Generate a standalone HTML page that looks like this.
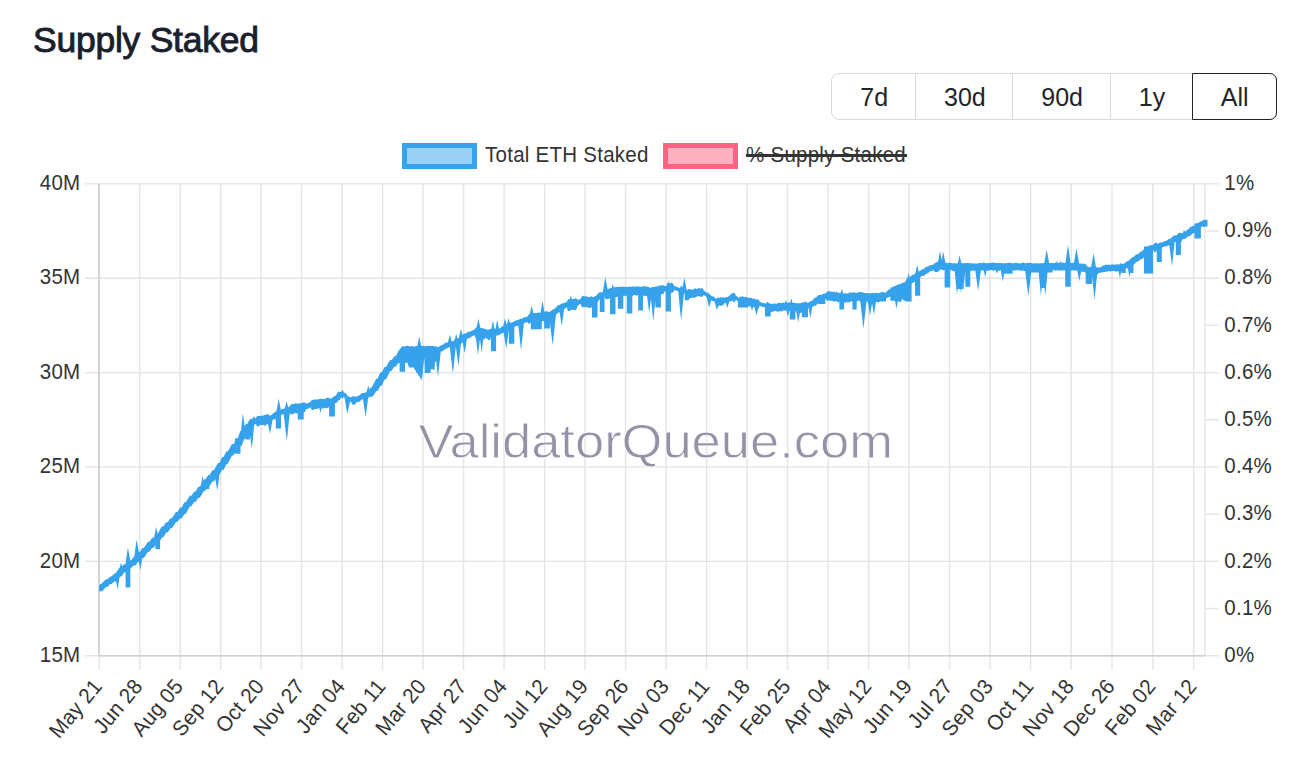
<!DOCTYPE html>
<html lang="en">
<head>
<meta charset="utf-8">
<title>Supply Staked</title>
<style>
html,body{margin:0;padding:0;background:#fff;}
body{width:1315px;height:765px;position:relative;overflow:hidden;font-family:"Liberation Sans",sans-serif;color:#212529;}
h2{position:absolute;left:33px;top:18.6px;margin:0;font-size:35.5px;line-height:42px;font-weight:normal;color:#1a202c;-webkit-text-stroke:0.9px #1a202c;white-space:nowrap;letter-spacing:-0.25px;}
.btns{position:absolute;left:831px;top:73px;height:47px;display:flex;box-sizing:border-box;border:1.3px solid #d6dade;border-radius:8px;}
.btns div{box-sizing:border-box;height:100%;font-size:25px;line-height:46.6px;text-align:center;padding-left:1px;color:#212529;border-right:1.3px solid #d6dade;}
.btns div.act{border:1.5px solid #212529;border-radius:0 7px 7px 0;margin:-1.3px -1.3px -1.3px -1.2px;padding-left:0;height:47px;line-height:46.6px;}
.btns span{display:inline-block;transform:scaleY(1.05);transform-origin:0 31.5px;}
.legend{position:absolute;top:142px;transform:scaleY(1.04);transform-origin:0 19.5px;height:26px;font-size:20.5px;letter-spacing:0.26px;line-height:26px;color:#333;white-space:nowrap;}
.box{position:absolute;top:143.2px;width:75px;height:25.6px;box-sizing:border-box;border:5px solid;}
svg{position:absolute;left:0;top:0;}
svg text{font-family:"Liberation Sans",sans-serif;}
</style>
</head>
<body>
<h2>Supply Staked</h2>
<div class="btns"><div style="width:84.3px"><span>7d</span></div><div style="width:97.1px"><span>30d</span></div><div style="width:97.5px"><span>90d</span></div><div style="width:82.2px"><span>1y</span></div><div class="act" style="width:85.6px"><span>All</span></div></div>
<div class="box" style="left:401.8px;border-color:#36a2eb;background:#9ad0f5"></div>
<div class="legend" style="left:485px">Total ETH Staked</div>
<div class="box" style="left:663.2px;border-color:#ff6384;background:#ffb1c1"></div>
<div class="legend" style="left:746px">% Supply Staked</div>
<div style="position:absolute;left:746px;top:154.4px;width:161px;height:2.5px;background:#333"></div>
<svg width="1315" height="765" viewBox="0 0 1315 765">
<g stroke="#e4e4e4" stroke-width="1.35" fill="none">
<line x1="99.2" x2="99.2" y1="183.8" y2="669.7"/>
<line x1="139.7" x2="139.7" y1="183.8" y2="669.7"/>
<line x1="180.2" x2="180.2" y1="183.8" y2="669.7"/>
<line x1="220.7" x2="220.7" y1="183.8" y2="669.7"/>
<line x1="261.1" x2="261.1" y1="183.8" y2="669.7"/>
<line x1="301.6" x2="301.6" y1="183.8" y2="669.7"/>
<line x1="342.1" x2="342.1" y1="183.8" y2="669.7"/>
<line x1="382.6" x2="382.6" y1="183.8" y2="669.7"/>
<line x1="423.1" x2="423.1" y1="183.8" y2="669.7"/>
<line x1="463.6" x2="463.6" y1="183.8" y2="669.7"/>
<line x1="504.1" x2="504.1" y1="183.8" y2="669.7"/>
<line x1="544.6" x2="544.6" y1="183.8" y2="669.7"/>
<line x1="585.1" x2="585.1" y1="183.8" y2="669.7"/>
<line x1="625.6" x2="625.6" y1="183.8" y2="669.7"/>
<line x1="666.1" x2="666.1" y1="183.8" y2="669.7"/>
<line x1="706.6" x2="706.6" y1="183.8" y2="669.7"/>
<line x1="747.1" x2="747.1" y1="183.8" y2="669.7"/>
<line x1="787.6" x2="787.6" y1="183.8" y2="669.7"/>
<line x1="828.1" x2="828.1" y1="183.8" y2="669.7"/>
<line x1="868.6" x2="868.6" y1="183.8" y2="669.7"/>
<line x1="909.1" x2="909.1" y1="183.8" y2="669.7"/>
<line x1="949.6" x2="949.6" y1="183.8" y2="669.7"/>
<line x1="990.1" x2="990.1" y1="183.8" y2="669.7"/>
<line x1="1030.7" x2="1030.7" y1="183.8" y2="669.7"/>
<line x1="1071.2" x2="1071.2" y1="183.8" y2="669.7"/>
<line x1="1112" x2="1112" y1="183.8" y2="669.7"/>
<line x1="1152.8" x2="1152.8" y1="183.8" y2="669.7"/>
<line x1="1193.8" x2="1193.8" y1="183.8" y2="669.7"/>
<line x1="1204.9" x2="1204.9" y1="183.8" y2="655.7"/>
<line x1="85" x2="1218.9" y1="183.8" y2="183.8"/>
<line x1="1204.9" x2="1218.9" y1="231" y2="231"/>
<line x1="85" x2="1218.9" y1="278.2" y2="278.2"/>
<line x1="1204.9" x2="1218.9" y1="325.4" y2="325.4"/>
<line x1="85" x2="1218.9" y1="372.6" y2="372.6"/>
<line x1="1204.9" x2="1218.9" y1="419.8" y2="419.8"/>
<line x1="85" x2="1218.9" y1="466.9" y2="466.9"/>
<line x1="1204.9" x2="1218.9" y1="514.1" y2="514.1"/>
<line x1="85" x2="1218.9" y1="561.3" y2="561.3"/>
<line x1="1204.9" x2="1218.9" y1="608.5" y2="608.5"/>
<line x1="85" x2="1218.9" y1="655.7" y2="655.7"/>
</g>
<line x1="99" x2="99" y1="183.8" y2="655.7" stroke="#cfcfcf" stroke-width="1.6"/>
<line x1="99" x2="1204.9" y1="655.7" y2="655.7" stroke="#cfcfcf" stroke-width="1.6"/>
<text x="418.4" y="457.6" font-size="48" fill="#9392a6" stroke="#fff" stroke-width="0.8" textLength="474.5" lengthAdjust="spacingAndGlyphs">ValidatorQueue.com</text>
<path d="M99 585.9 L100.4 584 L101.8 583.6 L103.2 582 L104.6 580.5 L106 579.2 L107.4 579.2 L108.8 577.9 L110.2 576.6 L111.6 576.6 L113 575.1 L114.4 573.4 L115.8 573.3 L117.2 571.1 L118.6 569.1 L120 567.1 L121.4 567.2 L122.8 565.4 L124.2 564.1 L125.6 564.2 L127 562.9 L128.4 561.5 L129.8 561.5 L131.2 560 L132.6 558.4 L134 556.4 L135.4 556.2 L136.8 554.1 L138.2 552.1 L139.6 552.1 L141 550.1 L142.4 548 L143.8 547.9 L145.2 545.9 L146.6 543.8 L148 541.8 L149.4 541.8 L150.8 539.8 L152.2 537.8 L153.6 537.8 L155 535.8 L156.4 533.6 L157.8 533.5 L159.2 531.1 L160.6 528.6 L162 526.3 L163.4 526.4 L164.8 524.3 L166.2 522.3 L167.6 522.4 L169 520.3 L170.4 518.2 L171.8 518.3 L173.2 516.2 L174.6 514.1 L176 512.1 L177.4 512.1 L178.8 510 L180.2 507.6 L181.6 507.4 L183 504.8 L184.4 502.3 L185.8 502.3 L187.2 499.9 L188.6 497.7 L190 495.6 L191.4 495.8 L192.8 493.7 L194.2 491.5 L195.6 491.5 L197 489.1 L198.4 486.8 L199.8 486.7 L201.2 484.4 L202.6 482.1 L204 479.7 L205.4 479.7 L206.8 477.3 L208.2 474.9 L209.6 474.9 L211 472.6 L212.4 470.2 L213.8 470.2 L215.2 467.9 L216.6 465.5 L218 463.1 L219.4 463 L220.8 460.1 L222.2 457 L223.6 456.9 L225 454 L226.4 451.3 L227.8 451.4 L229.2 448.9 L230.6 446.3 L232 444.1 L233.4 444.2 L234.8 441.9 L236.2 439.3 L237.6 438.9 L239 434.7 L240.4 430.9 L241.8 431.1 L243.2 428.8 L244.6 426.5 L246 423.9 L247.4 423.8 L248.8 421.1 L250.2 419 L251.6 419.2 L253 418.1 L254.4 417.9 L255.8 418.3 L257.2 415.9 L258.6 415.9 L260 416.1 L261.4 415.7 L262.8 415.7 L264.2 415.1 L265.6 415.1 L267 414.1 L268.4 414.6 L269.8 415.8 L271.2 415.1 L272.6 414 L274 412.4 L275.4 412.2 L276.8 410.7 L278.2 409.8 L279.6 410 L281 409.5 L282.4 408.8 L283.8 408.9 L285.2 408.2 L286.6 407.5 L288 406.9 L289.4 406.9 L290.8 404.4 L292.2 404.1 L293.6 404.1 L295 403.5 L296.4 403.3 L297.8 403.9 L299.2 403.3 L300.6 403.4 L302 402.7 L303.4 402.4 L304.8 402.5 L306.2 403.5 L307.6 403.3 L309 402.6 L310.4 402.1 L311.8 399.9 L313.2 400 L314.6 399.3 L316 399.8 L317.4 399.2 L318.8 399.2 L320.2 398.8 L321.6 398.7 L323 399 L324.4 399 L325.8 398.4 L327.2 397.8 L328.6 397.4 L330 399.7 L331.4 398.5 L332.8 397.4 L334.2 396.1 L335.6 395.9 L337 393.6 L338.4 391.6 L339.8 392 L341.2 391.9 L342.6 389.8 L344 392.5 L345.4 393 L346.8 394.5 L348.2 396.4 L349.6 396.7 L351 397.4 L352.4 396.3 L353.8 396.4 L355.2 396.4 L356.6 396.5 L358 396.3 L359.4 395.2 L360.8 393.9 L362.2 392.9 L363.6 393 L365 392.7 L366.4 392.1 L367.8 391.9 L369.2 390 L370.6 387.6 L372 387.2 L373.4 384.3 L374.8 381.6 L376.2 378.8 L377.6 378.7 L379 375.5 L380.4 372.3 L381.8 372.4 L383.2 369.6 L384.6 366.9 L386 367 L387.4 364.4 L388.8 362.1 L390.2 360.1 L391.6 360.3 L393 358.3 L394.4 356.2 L395.8 356.2 L397.2 353.6 L398.6 350.5 L400 350.4 L401.4 347.1 L402.8 345.9 L404.2 346.8 L405.6 345.9 L407 345.8 L408.4 345.9 L409.8 346.4 L411.2 345.9 L412.6 346 L414 347 L415.4 346.2 L416.8 346.1 L418.2 345.7 L419.6 345.5 L421 345.6 L422.4 346.2 L423.8 345.8 L425.2 346.4 L426.6 346.1 L428 345.7 L429.4 345.9 L430.8 346 L432.2 346.1 L433.6 345.9 L435 346.7 L436.4 346 L437.8 347.4 L439.2 346.4 L440.6 345.4 L442 345.3 L443.4 344.2 L444.8 343.3 L446.2 342.5 L447.6 342.6 L449 342.2 L450.4 341.7 L451.8 341.7 L453.2 340.9 L454.6 340.1 L456 340 L457.4 338.9 L458.8 337.7 L460.2 336.1 L461.6 336 L463 334.4 L464.4 333.5 L465.8 333.6 L467.2 332.6 L468.6 331.7 L470 331.8 L471.4 331 L472.8 330.3 L474.2 329.8 L475.6 328 L477 327.1 L478.4 326.5 L479.8 327.4 L481.2 327.9 L482.6 327.9 L484 328.8 L485.4 329.1 L486.8 329.5 L488.2 329.7 L489.6 329.3 L491 328.7 L492.4 328.2 L493.8 329.3 L495.2 328.5 L496.6 329.9 L498 329.7 L499.4 328.6 L500.8 327.4 L502.2 326.3 L503.6 326.3 L505 325.3 L506.4 324.3 L507.8 324.4 L509.2 323.4 L510.6 322.4 L512 322.5 L513.4 321.8 L514.8 321 L516.2 320.3 L517.6 320.3 L519 319.5 L520.4 318.7 L521.8 318.7 L523.2 317.9 L524.6 317.1 L526 317.2 L527.4 316.6 L528.8 314.6 L530.2 313.8 L531.6 313.6 L533 313.9 L534.4 313.1 L535.8 313 L537.2 313.1 L538.6 312.3 L540 313 L541.4 312 L542.8 311.9 L544.2 312.1 L545.6 311.4 L547 311 L548.4 312 L549.8 311.8 L551.2 310.7 L552.6 309.4 L554 309.2 L555.4 307.9 L556.8 306.4 L558.2 305 L559.6 305 L561 304.1 L562.4 303.2 L563.8 303.3 L565.2 302.6 L566.6 302.2 L568 299.6 L569.4 299.1 L570.8 298.9 L572.2 298.9 L573.6 299.2 L575 298.3 L576.4 298.4 L577.8 300 L579.2 299.4 L580.6 298.8 L582 296.2 L583.4 295.9 L584.8 296.6 L586.2 296 L587.6 297.1 L589 297 L590.4 296.8 L591.8 296.3 L593.2 297.8 L594.6 296.3 L596 296.1 L597.4 294.3 L598.8 292.8 L600.2 292.1 L601.6 292.4 L603 291.9 L604.4 291.5 L605.8 289.1 L607.2 289.3 L608.6 288.7 L610 288.3 L611.4 288.1 L612.8 287.7 L614.2 287.4 L615.6 287 L617 287.1 L618.4 286.8 L619.8 287.1 L621.2 286.6 L622.6 286.8 L624 286.8 L625.4 286.7 L626.8 286.9 L628.2 286.9 L629.6 286.2 L631 286.9 L632.4 286.3 L633.8 286.8 L635.2 286.6 L636.6 286.6 L638 286.3 L639.4 286.8 L640.8 286.8 L642.2 286.7 L643.6 286.1 L645 286.6 L646.4 286.2 L647.8 286.8 L649.2 287.3 L650.6 287.9 L652 287 L653.4 287 L654.8 287.1 L656.2 286.3 L657.6 286.5 L659 285.8 L660.4 285.2 L661.8 285.6 L663.2 285.1 L664.6 286 L666 285.9 L667.4 284.7 L668.8 283.1 L670.2 283.5 L671.6 282.6 L673 283.7 L674.4 286.2 L675.8 286.2 L677.2 286.9 L678.6 287.7 L680 287.7 L681.4 285.6 L682.8 288.7 L684.2 289.6 L685.6 289.5 L687 290.6 L688.4 289.1 L689.8 289.1 L691.2 289.7 L692.6 289.8 L694 289 L695.4 288.3 L696.8 289 L698.2 288.2 L699.6 288.3 L701 288.6 L702.4 288.1 L703.8 290.5 L705.2 291.4 L706.6 292.8 L708 292.7 L709.4 294.1 L710.8 295.3 L712.2 296.4 L713.6 296.3 L715 298 L716.4 299 L717.8 297.2 L719.2 298 L720.6 297.3 L722 297.7 L723.4 297.2 L724.8 297.8 L726.2 297 L727.6 296.9 L729 295.9 L730.4 294.8 L731.8 293.5 L733.2 293 L734.6 292.9 L736 295.7 L737.4 296.8 L738.8 298.1 L740.2 296.8 L741.6 296.6 L743 296.4 L744.4 297.2 L745.8 296.7 L747.2 297.5 L748.6 298 L750 297.4 L751.4 297.9 L752.8 298.7 L754.2 298.6 L755.6 299.4 L757 299.2 L758.4 299.6 L759.8 301.7 L761.2 302.4 L762.6 303.1 L764 303.1 L765.4 303.9 L766.8 302 L768.2 302.6 L769.6 303.6 L771 303.7 L772.4 303.9 L773.8 303.4 L775.2 303.6 L776.6 303.9 L778 302.8 L779.4 303 L780.8 302.9 L782.2 303.1 L783.6 302.5 L785 303 L786.4 303 L787.8 302.6 L789.2 302.6 L790.6 302.6 L792 302.7 L793.4 302.9 L794.8 302.7 L796.2 303.3 L797.6 303.3 L799 303.3 L800.4 303.2 L801.8 302.5 L803.2 302.6 L804.6 302.1 L806 301.6 L807.4 303 L808.8 302.2 L810.2 301.3 L811.6 301.1 L813 299.8 L814.4 297.8 L815.8 297.7 L817.2 296.3 L818.6 295.5 L820 295.7 L821.4 294.7 L822.8 293.9 L824.2 293.4 L825.6 293.5 L827 291.5 L828.4 291.5 L829.8 291.1 L831.2 291.8 L832.6 291.9 L834 291.4 L835.4 292.5 L836.8 292.8 L838.2 292.6 L839.6 293.1 L841 293 L842.4 293.6 L843.8 293.4 L845.2 292.9 L846.6 293.5 L848 293.4 L849.4 292.6 L850.8 292.5 L852.2 292.8 L853.6 292.2 L855 292.8 L856.4 292.7 L857.8 292.7 L859.2 292 L860.6 291.9 L862 292.3 L863.4 292.5 L864.8 292.9 L866.2 293.3 L867.6 292.9 L869 293.5 L870.4 293.1 L871.8 293.3 L873.2 292.8 L874.6 293.4 L876 292.6 L877.4 293.2 L878.8 293.2 L880.2 292.6 L881.6 292.3 L883 291.9 L884.4 292.7 L885.8 292.5 L887.2 291.1 L888.6 289.6 L890 289.5 L891.4 288.2 L892.8 287.1 L894.2 285.9 L895.6 286 L897 284.9 L898.4 284.2 L899.8 284.3 L901.2 283.6 L902.6 282.7 L904 282.6 L905.4 281.5 L906.8 279.6 L908.2 277.7 L909.6 277.6 L911 276.1 L912.4 274.7 L913.8 274.7 L915.2 273.3 L916.6 272 L918 272.1 L919.4 271.3 L920.8 270.5 L922.2 269.3 L923.6 269.2 L925 267.8 L926.4 266.6 L927.8 266.7 L929.2 265.8 L930.6 265 L932 265.1 L933.4 264.6 L934.8 262.9 L936.2 262.6 L937.6 261.6 L939 262.5 L940.4 262.5 L941.8 262 L943.2 262.5 L944.6 262.2 L946 262.7 L947.4 263.2 L948.8 262.6 L950.2 263.1 L951.6 263.1 L953 263.5 L954.4 263 L955.8 263.4 L957.2 263.2 L958.6 263.2 L960 263.3 L961.4 262.8 L962.8 263.6 L964.2 263.1 L965.6 263.3 L967 262.9 L968.4 262.9 L969.8 263.3 L971.2 263.3 L972.6 263.5 L974 263.5 L975.4 263.5 L976.8 263.5 L978.2 263.4 L979.6 262.8 L981 262.9 L982.4 263.2 L983.8 263 L985.2 263.3 L986.6 263.3 L988 263.1 L989.4 262.9 L990.8 263.1 L992.2 262.6 L993.6 262.8 L995 262.7 L996.4 263.1 L997.8 263.3 L999.2 263.1 L1000.6 263 L1002 263.1 L1003.4 263.4 L1004.8 262.9 L1006.2 263.2 L1007.6 263 L1009 262.8 L1010.4 262.8 L1011.8 263.3 L1013.2 263.2 L1014.6 263.1 L1016 262.7 L1017.4 263.2 L1018.8 263.2 L1020.2 263.4 L1021.6 262.9 L1023 262.6 L1024.4 262.9 L1025.8 263.2 L1027.2 262.9 L1028.6 262.8 L1030 263 L1031.4 263.1 L1032.8 263.4 L1034.2 263.2 L1035.6 263.3 L1037 263.2 L1038.4 263.4 L1039.8 263.3 L1041.2 263.2 L1042.6 263.3 L1044 262.9 L1045.4 262.9 L1046.8 263.1 L1048.2 263.3 L1049.6 263.3 L1051 262.8 L1052.4 263 L1053.8 263.2 L1055.2 262.5 L1056.6 263 L1058 263 L1059.4 262.7 L1060.8 262.9 L1062.2 262.4 L1063.6 262.7 L1065 262.9 L1066.4 263 L1067.8 262.6 L1069.2 262.6 L1070.6 263.2 L1072 263.1 L1073.4 262.7 L1074.8 263.4 L1076.2 263.1 L1077.6 263.8 L1079 263.6 L1080.4 263.6 L1081.8 263.7 L1083.2 263.7 L1084.6 263.6 L1086 264.4 L1087.4 266.5 L1088.8 267.1 L1090.2 268 L1091.6 268.1 L1093 267.2 L1094.4 267.9 L1095.8 267.3 L1097.2 267.2 L1098.6 267.5 L1100 267.5 L1101.4 266.7 L1102.8 265.5 L1104.2 265.4 L1105.6 264.6 L1107 265 L1108.4 264.4 L1109.8 264.9 L1111.2 264.4 L1112.6 264.4 L1114 264.4 L1115.4 264.7 L1116.8 264.3 L1118.2 264.4 L1119.6 264.2 L1121 263 L1122.4 264 L1123.8 263.8 L1125.2 262.7 L1126.6 261.3 L1128 261.2 L1129.4 260 L1130.8 258.7 L1132.2 257.2 L1133.6 257.1 L1135 255.6 L1136.4 254.3 L1137.8 254.3 L1139.2 253 L1140.6 251.4 L1142 251.4 L1143.4 249.7 L1144.8 248.2 L1146.2 246.7 L1147.6 246.8 L1149 245.7 L1150.4 245.1 L1151.8 245.3 L1153.2 245 L1154.6 242.9 L1156 242.6 L1157.4 243.8 L1158.8 243.2 L1160.2 242.5 L1161.6 242.5 L1163 241.9 L1164.4 241.2 L1165.8 241.1 L1167.2 240.2 L1168.6 239 L1170 238.9 L1171.4 237.7 L1172.8 236.4 L1174.2 235.2 L1175.6 235.4 L1177 235 L1178.4 233.1 L1179.8 232.7 L1181.2 233 L1182.6 233.4 L1184 233.2 L1185.4 231.6 L1186.8 230.3 L1188.2 228.9 L1189.6 228.9 L1191 227.4 L1192.4 225.9 L1193.8 225.9 L1195.2 224.5 L1196.6 223.1 L1198 223.2 L1199.4 222.1 L1200.8 221.3 L1202.2 220.9 L1203.6 219.6 L1205 219.9 L1206.4 220 L1207.5 219.6 L1207.5 226.4 L1206.4 226.4 L1205 226.8 L1203.6 227.1 L1202.2 226.3 L1200.8 227.7 L1199.4 229.1 L1198 230.6 L1196.6 230.7 L1195.2 232.2 L1193.8 233.6 L1192.4 233.6 L1191 235 L1189.6 236.3 L1188.2 236.2 L1186.8 237.5 L1185.4 238.6 L1184 239.3 L1182.6 239.1 L1181.2 242.2 L1179.8 242.3 L1178.4 244 L1177 240.4 L1175.6 241.9 L1174.2 242.1 L1172.8 243.3 L1171.4 244.4 L1170 245.5 L1168.6 245.3 L1167.2 246 L1165.8 246.6 L1164.4 246.5 L1163 247.2 L1161.6 247.8 L1160.2 247.8 L1158.8 248.4 L1157.4 249 L1156 251.8 L1154.6 252.4 L1153.2 250 L1151.8 251 L1150.4 251.2 L1149 252.8 L1147.6 254.6 L1146.2 254.7 L1144.8 256.3 L1143.4 257.9 L1142 259.3 L1140.6 259.2 L1139.2 260.4 L1137.8 261.8 L1136.4 261.8 L1135 263.4 L1133.6 264.7 L1132.2 264.7 L1130.8 265.8 L1129.4 267 L1128 268.3 L1126.6 268.2 L1125.2 269 L1123.8 269.7 L1122.4 269.5 L1121 274.1 L1119.6 271.4 L1118.2 271.1 L1116.8 271.4 L1115.4 271.4 L1114 271.1 L1112.6 271 L1111.2 271.2 L1109.8 271.4 L1108.4 271.1 L1107 271.8 L1105.6 271.7 L1104.2 272 L1102.8 272.6 L1101.4 272.2 L1100 273 L1098.6 273 L1097.2 274.9 L1095.8 275.2 L1094.4 275.2 L1093 275.4 L1091.6 271.9 L1090.2 272 L1088.8 271.2 L1087.4 270.5 L1086 273 L1084.6 271.8 L1083.2 272 L1081.8 271.6 L1080.4 271.5 L1079 270.8 L1077.6 271.1 L1076.2 270.6 L1074.8 270.5 L1073.4 270.3 L1072 270.4 L1070.6 270.5 L1069.2 269.9 L1067.8 270.3 L1066.4 270.8 L1065 270.2 L1063.6 270.5 L1062.2 270.6 L1060.8 270.4 L1059.4 270.8 L1058 270.3 L1056.6 270.5 L1055.2 270.4 L1053.8 270.2 L1052.4 270.1 L1051 270.4 L1049.6 270.5 L1048.2 270.4 L1046.8 270.4 L1045.4 270 L1044 270.6 L1042.6 270.7 L1041.2 270.5 L1039.8 270.1 L1038.4 270.8 L1037 270.6 L1035.6 270.2 L1034.2 270.6 L1032.8 270.5 L1031.4 270.5 L1030 270.1 L1028.6 270.2 L1027.2 271.1 L1025.8 270.8 L1024.4 271 L1023 270.3 L1021.6 270.9 L1020.2 270.7 L1018.8 269.9 L1017.4 270.3 L1016 270.2 L1014.6 270.4 L1013.2 270.8 L1011.8 270.1 L1010.4 270.7 L1009 270.2 L1007.6 270.1 L1006.2 270.4 L1004.8 269.9 L1003.4 270.1 L1002 270.2 L1000.6 270 L999.2 270.8 L997.8 271 L996.4 270.4 L995 269.9 L993.6 270.8 L992.2 270.3 L990.8 270.1 L989.4 270.3 L988 271.1 L986.6 270.3 L985.2 270 L983.8 270.5 L982.4 270.2 L981 270.4 L979.6 271 L978.2 270.7 L976.8 270.7 L975.4 270.4 L974 270.8 L972.6 270.6 L971.2 271.1 L969.8 271.1 L968.4 270.7 L967 270.8 L965.6 270.9 L964.2 270.2 L962.8 270.6 L961.4 270.8 L960 270.5 L958.6 271.2 L957.2 270.4 L955.8 270.4 L954.4 271 L953 271.3 L951.6 270.1 L950.2 270.3 L948.8 270.1 L947.4 270.1 L946 270.6 L944.6 269.8 L943.2 270.4 L941.8 269.5 L940.4 269.6 L939 271.1 L937.6 271.9 L936.2 272.2 L934.8 271.9 L933.4 269.9 L932 270.9 L930.6 271 L929.2 272.1 L927.8 273.5 L926.4 273.6 L925 274.9 L923.6 275.9 L922.2 275.8 L920.8 276.7 L919.4 277.7 L918 279.3 L916.6 279.5 L915.2 281.1 L913.8 282.7 L912.4 282.7 L911 284.3 L909.6 286.1 L908.2 286 L906.8 287.4 L905.4 288 L904 288.6 L902.6 288.5 L901.2 289.2 L899.8 290.1 L898.4 290.2 L897 291.5 L895.6 292.8 L894.2 292.9 L892.8 294.1 L891.4 295.5 L890 297 L888.6 296.9 L887.2 298 L885.8 298.7 L884.4 298.5 L883 301.1 L881.6 300.8 L880.2 301.6 L878.8 302.4 L877.4 302 L876 302.1 L874.6 301.6 L873.2 302.1 L871.8 302.2 L870.4 302.5 L869 301.6 L867.6 301.5 L866.2 301.6 L864.8 301.2 L863.4 302.3 L862 300.9 L860.6 301.8 L859.2 300.7 L857.8 300.5 L856.4 301.9 L855 301.6 L853.6 302.3 L852.2 301.2 L850.8 301.6 L849.4 301.5 L848 302.8 L846.6 301.8 L845.2 302.9 L843.8 302.1 L842.4 302.5 L841 301.2 L839.6 301.7 L838.2 302.4 L836.8 301.1 L835.4 301.1 L834 300.4 L832.6 300.9 L831.2 300.8 L829.8 300.6 L828.4 300.5 L827 301.1 L825.6 298.7 L824.2 298.8 L822.8 299.9 L821.4 301 L820 302.1 L818.6 302.4 L817.2 304 L815.8 305.8 L814.4 305.8 L813 306.6 L811.6 307.2 L810.2 307 L808.8 307.7 L807.4 308.2 L806 311.1 L804.6 312.1 L803.2 311.7 L801.8 312.5 L800.4 312.9 L799 312 L797.6 311.8 L796.2 311.3 L794.8 311.5 L793.4 310.7 L792 310.4 L790.6 310.6 L789.2 310.4 L787.8 310.2 L786.4 310.6 L785 310.8 L783.6 310.3 L782.2 311.2 L780.8 311.6 L779.4 311.1 L778 312.1 L776.6 311.2 L775.2 311.1 L773.8 311.3 L772.4 311.8 L771 312.2 L769.6 312 L768.2 311.6 L766.8 311.8 L765.4 307.9 L764 307.1 L762.6 307.1 L761.2 306.3 L759.8 305.7 L758.4 308.7 L757 308 L755.6 307.1 L754.2 306.7 L752.8 307.5 L751.4 307.1 L750 306.3 L748.6 306.3 L747.2 305.8 L745.8 305.5 L744.4 305.5 L743 305 L741.6 305.3 L740.2 304.8 L738.8 301.9 L737.4 301.1 L736 299.8 L734.6 302.5 L733.2 301.3 L731.8 301.3 L730.4 301 L729 301.9 L727.6 302.6 L726.2 302.5 L724.8 303.1 L723.4 304.9 L722 305.2 L720.6 305.9 L719.2 305.6 L717.8 306.3 L716.4 303.3 L715 302 L713.6 301.1 L712.2 300.9 L710.8 299.8 L709.4 298.7 L708 297.3 L706.6 297.2 L705.2 295.9 L703.8 294.9 L702.4 296.6 L701 297 L699.6 296.3 L698.2 296.2 L696.8 296.6 L695.4 297.3 L694 298 L692.6 297.5 L691.2 297.9 L689.8 298.8 L688.4 298.2 L687 294.4 L685.6 293.5 L684.2 293.4 L682.8 292.8 L681.4 295.2 L680 291.6 L678.6 291.6 L677.2 290.9 L675.8 290.2 L674.4 290.2 L673 292.6 L671.6 293 L670.2 292.6 L668.8 292.8 L667.4 290.7 L666 291.5 L664.6 291.5 L663.2 294.2 L661.8 294.1 L660.4 295.1 L659 295.8 L657.6 295.7 L656.2 295.6 L654.8 297.1 L653.4 296.4 L652 296.3 L650.6 297.3 L649.2 296.1 L647.8 297 L646.4 295.7 L645 296.3 L643.6 295.6 L642.2 295.7 L640.8 296 L639.4 295.2 L638 295.1 L636.6 295.8 L635.2 295 L633.8 294.8 L632.4 296.2 L631 295.5 L629.6 295.1 L628.2 295.8 L626.8 295.3 L625.4 296.4 L624 295.7 L622.6 295.5 L621.2 297 L619.8 295.7 L618.4 296.3 L617 296.9 L615.6 297.2 L614.2 298 L612.8 298.2 L611.4 298.2 L610 298.1 L608.6 298.9 L607.2 298.9 L605.8 299.5 L604.4 296.5 L603 297.3 L601.6 298.5 L600.2 298.8 L598.8 300.6 L597.4 302.4 L596 303.5 L594.6 303.2 L593.2 303.7 L591.8 307 L590.4 308.3 L589 307.8 L587.6 307.6 L586.2 306.9 L584.8 307.2 L583.4 307 L582 307.6 L580.6 304 L579.2 304.6 L577.8 305.4 L576.4 309.2 L575 310.4 L573.6 309.8 L572.2 309.8 L570.8 310.1 L569.4 311.2 L568 311 L566.6 307.3 L565.2 308.3 L563.8 309.5 L562.4 309.7 L561 310.9 L559.6 312.4 L558.2 312.5 L556.8 314 L555.4 315.2 L554 316.3 L552.6 316.2 L551.2 317.1 L549.8 317.8 L548.4 317.6 L547 322 L545.6 321.1 L544.2 321 L542.8 320.9 L541.4 321.9 L540 321 L538.6 322.6 L537.2 321.8 L535.8 322.3 L534.4 322.9 L533 323.3 L531.6 322.4 L530.2 322.9 L528.8 324 L527.4 321.9 L526 322.7 L524.6 322.7 L523.2 323.5 L521.8 324.3 L520.4 324.3 L519 325.1 L517.6 325.9 L516.2 325.9 L514.8 326.7 L513.4 327.5 L512 328.5 L510.6 328.6 L509.2 329.6 L507.8 330.6 L506.4 330.7 L505 331.7 L503.6 332.9 L502.2 332.9 L500.8 334 L499.4 334.8 L498 335.5 L496.6 335.3 L495.2 339 L493.8 340.1 L492.4 340.3 L491 338.1 L489.6 340.3 L488.2 340 L486.8 338.2 L485.4 337.9 L484 339.6 L482.6 339 L481.2 337.9 L479.8 338.1 L478.4 337.1 L477 336.4 L475.6 338.1 L474.2 335 L472.8 335.9 L471.4 336.8 L470 337.9 L468.6 338 L467.2 339.1 L465.8 340.3 L464.4 340.4 L463 342.1 L461.6 343.5 L460.2 343.4 L458.8 344.3 L457.4 345.1 L456 345.8 L454.6 345.7 L453.2 346.3 L451.8 346.8 L450.4 346.8 L449 347.3 L447.6 348.3 L446.2 348.4 L444.8 349.5 L443.4 350.6 L442 351.5 L440.6 351.5 L439.2 352.2 L437.8 352.8 L436.4 356 L435 356.2 L433.6 355.8 L432.2 355.2 L430.8 354.8 L429.4 355.6 L428 355.5 L426.6 353.9 L425.2 354.3 L423.8 354.7 L422.4 354.7 L421 355.3 L419.6 353.5 L418.2 354.5 L416.8 354.9 L415.4 355.8 L414 356.3 L412.6 354.5 L411.2 356.2 L409.8 354.5 L408.4 354.2 L407 354.8 L405.6 353.9 L404.2 352.7 L402.8 355.9 L401.4 360.2 L400 363 L398.6 362.9 L397.2 364.8 L395.8 366.5 L394.4 366.5 L393 368.6 L391.6 370.9 L390.2 371.1 L388.8 373.8 L387.4 376.6 L386 379.5 L384.6 379.6 L383.2 382.6 L381.8 385.7 L380.4 385.7 L379 388.7 L377.6 391.1 L376.2 391 L374.8 393.4 L373.4 395.6 L372 397.1 L370.6 396.6 L369.2 397.5 L367.8 397.6 L366.4 397.4 L365 397.9 L363.6 399.2 L362.2 399.3 L360.8 400.6 L359.4 401.6 L358 402.2 L356.6 402 L355.2 404.3 L353.8 405 L352.4 404.2 L351 402 L349.6 400.6 L348.2 400.9 L346.8 399.3 L345.4 397.9 L344 396.6 L342.6 398.8 L341.2 397.3 L339.8 400 L338.4 400.4 L337 402.4 L335.6 403.1 L334.2 402.9 L332.8 403.6 L331.4 404.5 L330 404.6 L328.6 407.6 L327.2 408 L325.8 408.3 L324.4 407.6 L323 408.7 L321.6 407.9 L320.2 407.8 L318.8 407.9 L317.4 409.1 L316 408.9 L314.6 409 L313.2 410.1 L311.8 410.3 L310.4 407.2 L309 408.2 L307.6 409 L306.2 408.9 L304.8 412 L303.4 412.4 L302 413 L300.6 412.8 L299.2 413.5 L297.8 413 L296.4 413.6 L295 412.8 L293.6 414.1 L292.2 414.3 L290.8 414.5 L289.4 412.2 L288 412.2 L286.6 412.8 L285.2 413.6 L283.8 414.3 L282.4 414.3 L281 415.1 L279.6 416.4 L278.2 416.5 L276.8 418.2 L275.4 419.5 L274 419.3 L272.6 420 L271.2 420.4 L269.8 421 L268.4 423.3 L267 424.4 L265.6 425.1 L264.2 424.8 L262.8 424.9 L261.4 424.9 L260 425 L258.6 426.4 L257.2 426.5 L255.8 424 L254.4 424.4 L253 427 L251.6 430.2 L250.2 430.4 L248.8 433.4 L247.4 436.1 L246 436.1 L244.6 438.7 L243.2 441.6 L241.8 445.7 L240.4 445.9 L239 449.5 L237.6 451.5 L236.2 451.1 L234.8 453.1 L233.4 455.5 L232 455.6 L230.6 458.3 L229.2 461.1 L227.8 463.8 L226.4 463.9 L225 467 L223.6 470 L222.2 469.8 L220.8 472.3 L219.4 474.5 L218 474.4 L216.6 476.7 L215.2 479.1 L213.8 481.4 L212.4 481.4 L211 483.8 L209.6 486.2 L208.2 486.2 L206.8 488.5 L205.4 490.8 L204 490.8 L202.6 493.1 L201.2 495.4 L199.8 497.7 L198.4 497.7 L197 499.9 L195.6 502 L194.2 501.9 L192.8 504 L191.4 506.2 L190 506.3 L188.6 508.7 L187.2 511.3 L185.8 513.9 L184.4 513.9 L183 516.3 L181.6 518.4 L180.2 518.2 L178.8 520.1 L177.4 522.1 L176 522.1 L174.6 524.2 L173.2 526.2 L171.8 528.3 L170.4 528.3 L169 530.4 L167.6 532.5 L166.2 532.6 L164.8 534.9 L163.4 537.3 L162 537.4 L160.6 539.7 L159.2 541.9 L157.8 543.9 L156.4 543.8 L155 545.7 L153.6 547.7 L152.2 547.7 L150.8 549.7 L149.4 551.8 L148 551.8 L146.6 553.8 L145.2 555.9 L143.8 557.9 L142.4 557.9 L141 559.9 L139.6 561.8 L138.2 561.7 L136.8 563.6 L135.4 565.4 L134 565.2 L132.6 566.5 L131.2 567.8 L129.8 569.3 L128.4 569.3 L127 570.7 L125.6 572.3 L124.2 572.5 L122.8 574.5 L121.4 576.6 L120 576.7 L118.6 578.6 L117.2 580.4 L115.8 581.7 L114.4 581.5 L113 582.7 L111.6 584 L110.2 584 L108.8 585.4 L107.4 586.9 L106 586.9 L104.6 588.5 L103.2 590 L101.8 591.4 L100.4 591 L99 591.4Z" fill="#36a2eb"/>
<path d="M125.6 563.4H130.3V587.5H125.6ZM155.4 534.2H160.1V549H155.4ZM204.4 479.2H209.3V489H204.4ZM235 438.3H240.5V453.7H235ZM245.2 425H249.9V439.6H245.2ZM275.8 411.3H281V428.6H275.8ZM297.7 406.1H303.7V419.5H297.7ZM329.1 398.6H334.9V416.4H329.1ZM399.6 348.6H405.1V371.8H399.6ZM409 349H413.7V367.5H409ZM424.7 349H430.2V372.9H424.7ZM490.9 332H496.1V351.2H490.9ZM508.8 323.1H514.3V343.8H508.8ZM530.8 315.4H541.8V329.2H530.8ZM544.1 313.4H549.9V328.4H544.1ZM592 296.9H597.5V317.5H592ZM599.8 293.1H604.5V312H599.8ZM610 290.7H615.5V314.3H610ZM617.8 289.7H623.3V308.8H617.8ZM626.8 289.4H632.3V313.5H626.8ZM638.2 289.4H643V310.6H638.2ZM655.4 288.5H660.9V307.6H655.4ZM665.6 286H670.9V311.6H665.6ZM684.7 290.4H688.9V300.3H684.7ZM738 298.5H748.2V307.6H738ZM765 304.9H770.7V316.6H765ZM789.8 305.5H795.4V319.5H789.8ZM801.8 304.3H808V317.3H801.8ZM818.2 294.9H825.3V303.9H818.2ZM833.1 294.8H837V301.5H833.1ZM839.4 296H844.1V309.4H839.4ZM852.4 295.3H856.7V309.4H852.4ZM881 294.1H886V301.5H881ZM890.4 287.4H896.7V300.8H890.4ZM906.1 278.8H911.6V301.6H906.1ZM915 273H920.2V295.8H915ZM944.6 265.1H950.2V287.5H944.6ZM956.2 265.7H963.5V289H956.2ZM965.3 265.7H970.3V286.7H965.3ZM1004 265.5H1012.6V273.7H1004ZM1030.7 265.5H1044.8V272.5H1030.7ZM1040.9 265.5H1045.3V288H1040.9ZM1047.2 265.4H1052.6V272.5H1047.2ZM1065.2 265.3H1070.7V286.7H1065.2ZM1085.7 267.1H1092V283.9H1085.7ZM1121.8 264.6H1125.7V272.9H1121.8ZM1130.4 259.6H1133.5V272.9H1130.4ZM1144 246.5H1153.1V273.4H1144ZM1156.7 243.9H1161.8V262H1156.7ZM1175.8 235.8H1180.9V255.1H1175.8ZM1194.5 223.5H1200.9V238.4H1194.5ZM120.3 571.6L117.7 589.8L115.1 576.5ZM118.3 575.5L120.9 562.4L123.5 570.5ZM124.7 569.5L127.9 547.5L131.1 564.8ZM133.4 563.2L136.6 539.6L139.8 557.2ZM143.1 551.9L140.5 570.2L137.9 557ZM153.3 543.4L155.9 526.7L158.5 538.1ZM220.6 465.9L217.4 490.4L214.2 473.4ZM199.9 492.1L202.5 475.7L205.1 486.2ZM239.9 441.4L242.8 413.3L245.7 432.7ZM254.7 420L251.8 449L248.9 426.4ZM251.2 425.3L253.8 415.8L256.4 421.7ZM267.4 417.9L264.8 427L262.2 418.8ZM273.2 416.1L270 434.1L266.8 418ZM275.7 416.3L278.6 398.5L281.5 413.1ZM290.3 408.1L286.8 441.2L283.3 410.5ZM283.9 412.2L286.5 401.2L289.1 410.5ZM298.3 408.7L300.9 402.7L303.5 408.2ZM323.1 402L320.5 412.9L317.9 402.4ZM350.8 398.7L347.3 413.7L343.8 393.7ZM368.8 392.9L365.6 416.9L362.4 395.4ZM365.6 396.1L368.2 385.5L370.8 393.5ZM416.3 351L419.2 336.4L422.1 350.8ZM425.4 349L421.6 380L417.8 348.7ZM420.3 348.6L416.5 374L412.7 349.4ZM441.2 347.4L438 376.9L434.8 349.4ZM437.2 349L434 369L430.8 349.1ZM446.9 346.5L449.8 334.8L452.7 344.7ZM456.4 341.3L452.9 373.7L449.4 343.7ZM453.5 344.4L456.1 333.7L458.7 342.2ZM461.6 338.3L458.4 365.9L455.2 341.8ZM457.9 342.5L460.8 329L463.7 338.7ZM467.6 334.6L464.7 353.3L461.8 338.1ZM475.2 333.3L478.4 318.8L481.6 333.6ZM480.9 331.4L478 354.9L475.1 331.4ZM484.2 332.2L481.6 352.5L479 330.8ZM490.3 334.6L492.9 320.4L495.5 334.1ZM494.6 334.2L497.2 319.8L499.8 332.4ZM509.4 325.3L506.2 348.8L503 328.6ZM502.3 330.9L504.9 318.2L507.5 328.3ZM505.9 329L508.5 318.2L511.1 326.5ZM524.3 319.2L521.1 350.4L517.9 321.7ZM528.4 319.8L531.6 305.7L534.8 318.2ZM539.6 317.6L542.5 301L545.4 317.1ZM556.5 309.5L552.7 345.4L548.9 313.9ZM564.7 304.5L561.8 326.1L558.9 307.8ZM568.2 305.4L570.8 295.2L573.4 304.6ZM602.1 295.9L605.3 277L608.5 294.2ZM610.1 293.9L612.7 283.7L615.3 292.7ZM652.1 290.3L649.2 313L646.3 289.7ZM656.5 289.6L653.3 321L650.1 290.5ZM665.6 289.6L668.2 281L670.8 288ZM684.3 290.2L681.1 320.2L677.9 288.2ZM681.5 291.4L684.4 277.8L687.3 293.6ZM712.2 297.2L709 307.6L705.8 293.1ZM720.4 300.5L716.9 310L713.4 297.8ZM730.4 297.3L727.5 308.1L724.6 299.6ZM759.6 302.8L756.4 315.5L753.2 301.5ZM754.6 301.8L752 311L749.4 300.8ZM783.3 307.7L785.9 299.8L788.5 307.5ZM790.5 305.6L787.9 317L785.3 305.6ZM788.8 307.5L791.4 298.2L794 308ZM801.1 306L798.2 322.3L795.3 306.1ZM813 302.3L810.4 318L807.8 304.3ZM838.9 298L841.8 288.7L844.7 298.2ZM834.1 297L836.7 290.9L839.3 298ZM852.2 295.7L849.6 303.1L847 296.3ZM867.2 296L863.4 329L859.6 295.2ZM873.2 296.1L870 315.7L866.8 296ZM876.8 295.9L873.9 314.9L871 296.2ZM899.3 286.1L896.4 308.6L893.5 289.3ZM903.2 284.5L900.6 302.4L898 286.6ZM905.8 285.4L908.4 273.3L911 281.3ZM914.5 278.5L917.1 264.7L919.7 275.2ZM937.1 266.9L940 251L942.9 267ZM940.4 266.9L943.3 251.4L946.2 267.3ZM959.9 265.7L957 294.9L954.1 265.7ZM963.8 265.7L960.9 293.3L958 265.7ZM965.8 265.7L963.2 291L960.6 265.7ZM957 267.7L959.6 254.9L962.2 267.7ZM981.6 265.7L978.1 290.7L974.6 265.8ZM987.8 265.6L985.2 276.9L982.6 265.7ZM981.3 267.7L983.9 261.5L986.5 267.6ZM999.9 265.5L997 273.7L994.1 265.5ZM1005.7 265.5L1002.8 281.6L999.9 265.5ZM1032.1 265.6L1028.3 295.7L1024.5 265.5ZM1043.8 265.6L1040.9 295.7L1038 265.6ZM1048.2 265.5L1045.3 295.7L1042.4 265.6ZM1043.5 267.6L1046.7 249.4L1049.9 267.5ZM1054.8 267.3L1057 260.4L1059.2 267.3ZM1058.3 267.3L1060.5 260.4L1062.7 267.3ZM1064.8 267.3L1068 244.7L1071.2 267.5ZM1073 267.6L1076.5 248.6L1080 268.2ZM1082.2 266.3L1079.3 281.3L1076.4 265.9ZM1090.4 270.7L1093.6 253.3L1096.8 271.9ZM1097.7 269.7L1094.5 299.6L1091.3 269.1ZM1122.5 266L1119.9 277.6L1117.3 266.8ZM1132.2 260.5L1129.6 277.6L1127 263.7ZM1175.2 237.5L1172 265.9L1168.8 241.3ZM1181.4 237.8L1184 229.8L1186.6 235.2ZM1187.4 234.6L1190 226L1192.6 231.1ZM405.1 349.6 L440.4 348.7 L440.4 354.9 L438 376.9 L436.4 361.5 L435 361.5 L434.6 369.8 L431 369 L430.2 372.9 L424.7 372.9 L424.4 359 L423.2 359 L422.9 372.9 L421.6 380 L414.5 369 L413.7 367.5 L409 367.5 L407.5 362.7 L405.1 362.7ZM890.4 292.2 L911.6 279.8 L911.6 301.6 L906 301.6 L902 299 L900.6 302.4 L898 301 L896.4 308.6 L895 300.8 L890.4 300.8Z" fill="#36a2eb"/>
<g font-size="20.5" letter-spacing="0.25" fill="#333">
<text transform="translate(80.4 190) scale(1 1.045)" text-anchor="end">40M</text>
<text transform="translate(80.4 284.4) scale(1 1.045)" text-anchor="end">35M</text>
<text transform="translate(80.4 378.8) scale(1 1.045)" text-anchor="end">30M</text>
<text transform="translate(80.4 473.1) scale(1 1.045)" text-anchor="end">25M</text>
<text transform="translate(80.4 567.5) scale(1 1.045)" text-anchor="end">20M</text>
<text transform="translate(80.4 661.9) scale(1 1.045)" text-anchor="end">15M</text>
<text transform="translate(1224.3 190) scale(1 1.045)">1%</text>
<text transform="translate(1224.3 237.2) scale(1 1.045)">0.9%</text>
<text transform="translate(1224.3 284.4) scale(1 1.045)">0.8%</text>
<text transform="translate(1224.3 331.6) scale(1 1.045)">0.7%</text>
<text transform="translate(1224.3 378.8) scale(1 1.045)">0.6%</text>
<text transform="translate(1224.3 425.9) scale(1 1.045)">0.5%</text>
<text transform="translate(1224.3 473.1) scale(1 1.045)">0.4%</text>
<text transform="translate(1224.3 520.3) scale(1 1.045)">0.3%</text>
<text transform="translate(1224.3 567.5) scale(1 1.045)">0.2%</text>
<text transform="translate(1224.3 614.7) scale(1 1.045)">0.1%</text>
<text transform="translate(1224.3 661.9) scale(1 1.045)">0%</text>
<text transform="translate(103.2 686.8) rotate(-50) scale(1 1.045)" text-anchor="end">May 21</text>
<text transform="translate(143.7 686.8) rotate(-50) scale(1 1.045)" text-anchor="end">Jun 28</text>
<text transform="translate(184.2 686.8) rotate(-50) scale(1 1.045)" text-anchor="end">Aug 05</text>
<text transform="translate(224.7 686.8) rotate(-50) scale(1 1.045)" text-anchor="end">Sep 12</text>
<text transform="translate(265.2 686.8) rotate(-50) scale(1 1.045)" text-anchor="end">Oct 20</text>
<text transform="translate(305.7 686.8) rotate(-50) scale(1 1.045)" text-anchor="end">Nov 27</text>
<text transform="translate(346.2 686.8) rotate(-50) scale(1 1.045)" text-anchor="end">Jan 04</text>
<text transform="translate(386.7 686.8) rotate(-50) scale(1 1.045)" text-anchor="end">Feb 11</text>
<text transform="translate(427.2 686.8) rotate(-50) scale(1 1.045)" text-anchor="end">Mar 20</text>
<text transform="translate(467.7 686.8) rotate(-50) scale(1 1.045)" text-anchor="end">Apr 27</text>
<text transform="translate(508.2 686.8) rotate(-50) scale(1 1.045)" text-anchor="end">Jun 04</text>
<text transform="translate(548.7 686.8) rotate(-50) scale(1 1.045)" text-anchor="end">Jul 12</text>
<text transform="translate(589.2 686.8) rotate(-50) scale(1 1.045)" text-anchor="end">Aug 19</text>
<text transform="translate(629.7 686.8) rotate(-50) scale(1 1.045)" text-anchor="end">Sep 26</text>
<text transform="translate(670.2 686.8) rotate(-50) scale(1 1.045)" text-anchor="end">Nov 03</text>
<text transform="translate(710.7 686.8) rotate(-50) scale(1 1.045)" text-anchor="end">Dec 11</text>
<text transform="translate(751.2 686.8) rotate(-50) scale(1 1.045)" text-anchor="end">Jan 18</text>
<text transform="translate(791.7 686.8) rotate(-50) scale(1 1.045)" text-anchor="end">Feb 25</text>
<text transform="translate(832.2 686.8) rotate(-50) scale(1 1.045)" text-anchor="end">Apr 04</text>
<text transform="translate(872.7 686.8) rotate(-50) scale(1 1.045)" text-anchor="end">May 12</text>
<text transform="translate(913.2 686.8) rotate(-50) scale(1 1.045)" text-anchor="end">Jun 19</text>
<text transform="translate(953.7 686.8) rotate(-50) scale(1 1.045)" text-anchor="end">Jul 27</text>
<text transform="translate(994.2 686.8) rotate(-50) scale(1 1.045)" text-anchor="end">Sep 03</text>
<text transform="translate(1034.7 686.8) rotate(-50) scale(1 1.045)" text-anchor="end">Oct 11</text>
<text transform="translate(1075.2 686.8) rotate(-50) scale(1 1.045)" text-anchor="end">Nov 18</text>
<text transform="translate(1116 686.8) rotate(-50) scale(1 1.045)" text-anchor="end">Dec 26</text>
<text transform="translate(1156.8 686.8) rotate(-50) scale(1 1.045)" text-anchor="end">Feb 02</text>
<text transform="translate(1197.8 686.8) rotate(-50) scale(1 1.045)" text-anchor="end">Mar 12</text>
</g>
</svg>
</body>
</html>
